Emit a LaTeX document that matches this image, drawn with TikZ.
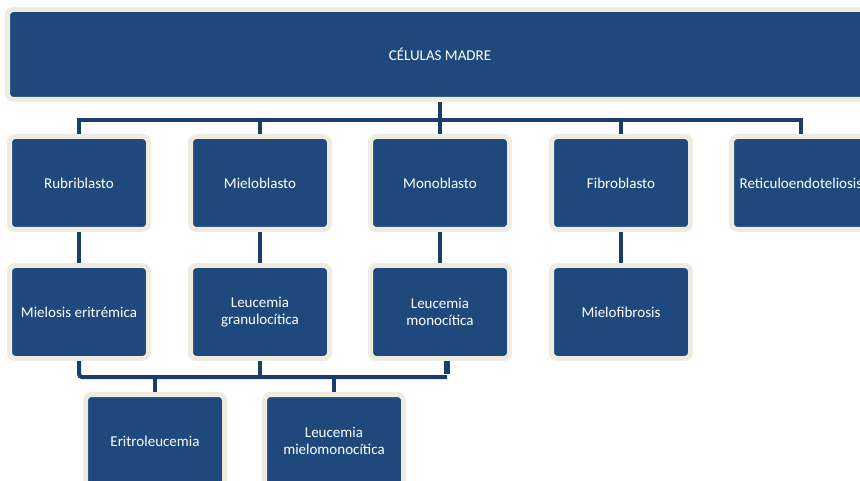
\documentclass[tikz,border=0pt]{standalone}
\usepackage{fontspec}
\setmainfont{Carlito}
\usetikzlibrary{calc}

\definecolor{boxblue}{HTML}{1F497D}
\definecolor{boxrim}{HTML}{EEECE1}
\definecolor{linkblue}{HTML}{1B3D6B}

\begin{document}
\begin{tikzpicture}[x=1pt, y=-1pt,
    cell/.style={rectangle, rounded corners=6pt, fill=boxblue, draw=boxrim, line width=5pt,
        minimum width=139pt, minimum height=93pt, text=white, align=center,
        font=\fontsize{15}{17}\selectfont},
    link/.style={draw=linkblue, line width=4pt}]

    \useasboundingbox (0,0) rectangle (860,481);

    % stem cells
    \node[cell, minimum width=865pt, minimum height=90pt] (madre) at (440,54.5) {CÉLULAS MADRE};

    \node[cell] (rubri) at (79,183) {Rubriblasto};
    \node[cell] (mielo) at (260,183) {Mieloblasto};
    \node[cell] (mono)  at (440,183) {Monoblasto};
    \node[cell] (fibro) at (621,183) {Fibroblasto};
    \node[cell] (reti)  at (801,183) {Reticuloendoteliosis};

    \node[cell] (mielosis) at (79,312)  {Mielosis eritrémica};
    \node[cell] (granulo)  at (260,312) {Leucemia\\granulocítica};
    \node[cell] (monocit)  at (440,312) {Leucemia\\monocítica};
    \node[cell] (mielofib) at (621,312) {Mielofibrosis};

    \node[cell] (eritro) at (155,441) {Eritroleucemia};
    \node[cell] (mielomono) at (334,441) {Leucemia\\mielomonocítica};

    % upper bus
    \coordinate (bus1) at (440,120);
    \draw[link] (madre.south) -- (bus1);
    \foreach \n in {rubri,mielo,mono,fibro,reti}
        \draw[link] (bus1) -| (\n.north);

    % first to second row
    \draw[link] (rubri) -- (mielosis);
    \draw[link] (mielo) -- (granulo);
    \draw[link] (mono) -- (monocit);
    \draw[link] (fibro) -- (mielofib);

    % lower bus
    \coordinate (bus2) at (447,377);
    \draw[link, rounded corners=3pt] (mielosis.south) |- (bus2);
    \draw[link] (granulo.south) -- (granulo.south |- bus2);
    \draw[link, line width=6pt] ([xshift=7pt]monocit.south) -- ([yshift=3pt]bus2);
    \draw[link] (bus2) -| (eritro.north);
    \draw[link] (bus2) -| (mielomono.north);

\end{tikzpicture}
\end{document}
